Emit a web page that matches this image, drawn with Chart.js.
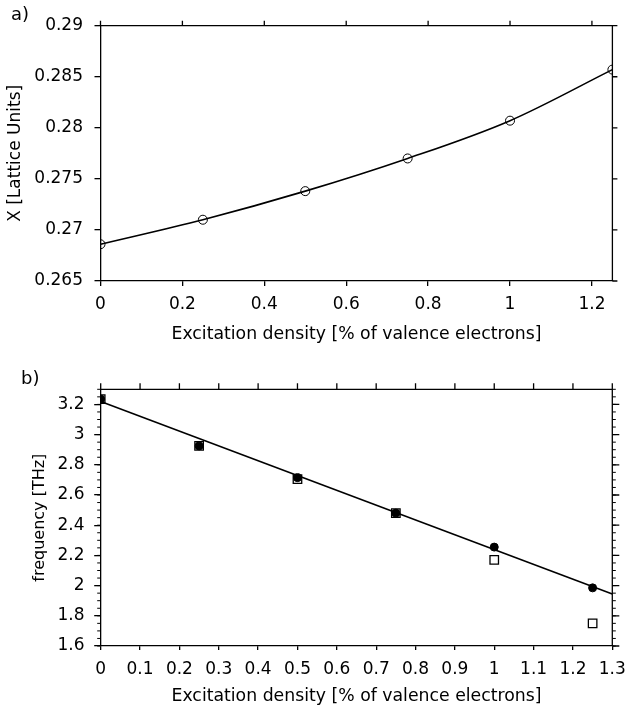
<!DOCTYPE html>
<html>
<head>
<title>Excitation density</title>
<script src="https://cdn.jsdelivr.net/npm/chart.js"></script>
<style>
  body { margin: 0; background: #fff; font-family: 'DejaVu Sans', sans-serif; }
  #wrap { position: relative; width: 626px; height: 713px; }
  canvas { position: absolute; left: 0; }
  #chartA { top: 0; }
  #chartB { top: 350px; }
  .tag { position: absolute; font-size: 18px; color: #000; line-height: 21px; }
</style>
</head>
<body>
<div id="wrap">
  <canvas id="chartA" width="626" height="350"></canvas>
  <canvas id="chartB" width="626" height="363"></canvas>
  <div class="tag" style="left:11px; top:3px;">a)</div>
  <div class="tag" style="left:21px; top:367px;">b)</div>
</div>
<script>
// data
const excitation = [0, 0.25, 0.5, 0.75, 1.0, 1.25];
const latticeX = [0.2686, 0.2710, 0.2738, 0.2770, 0.2807, 0.2857];
const freqFilled = [3.235, 2.925, 2.715, 2.48, 2.255, 1.985];
const freqOpen = [3.235, 2.925, 2.705, 2.48, 2.17, 1.75];
const fitX = [0, 1.3];
const fitY = [3.22, 1.945];

const pts = (xs, ys) => xs.map((x, i) => ({ x: x, y: ys[i] }));
const fmt = v => String(+(+v).toFixed(3));

Chart.defaults.font.family = "'DejaVu Sans', sans-serif";
Chart.defaults.font.size = 17;
Chart.defaults.color = '#000';

// top / right frame lines, their ticks, and minor ticks
const frameTicks = {
  id: 'frameTicks',
  afterDraw(chart, args, opts) {
    const { ctx, chartArea: a, scales: { x, y } } = chart;
    ctx.save();
    ctx.strokeStyle = '#000';
    ctx.lineWidth = 1.3;
    ctx.beginPath();
    ctx.moveTo(a.left, a.top);
    ctx.lineTo(a.right, a.top);
    ctx.lineTo(a.right, a.bottom);
    x.ticks.forEach(t => {
      const p = x.getPixelForValue(t.value);
      ctx.moveTo(p, a.top);
      ctx.lineTo(p, a.top - opts.topLen);
    });
    y.ticks.forEach(t => {
      const p = y.getPixelForValue(t.value);
      ctx.moveTo(a.right, p);
      ctx.lineTo(a.right + opts.rightLen, p);
    });
    ctx.stroke();
    if (opts.minorStep) {
      ctx.lineWidth = 1;
      ctx.beginPath();
      const n = Math.round((y.max - y.min) / opts.minorStep);
      for (let i = 0; i <= n; i++) {
        const p = y.getPixelForValue(y.min + i * opts.minorStep);
        ctx.moveTo(a.left, p);
        ctx.lineTo(a.left - opts.minorLen, p);
        ctx.moveTo(a.right, p);
        ctx.lineTo(a.right + opts.minorLen, p);
      }
      ctx.stroke();
    }
    ctx.restore();
  }
};

const axisGrid = len => ({ drawOnChartArea: false, tickLength: len, color: '#000', lineWidth: 1.3 });
const axisBorder = { color: '#000', width: 1.3 };
// fixed axis boxes, no automatic label overflow padding
const fixH = h => s => { s.height = h; s.paddingLeft = 0; s.paddingRight = 0; };
const fixW = w => s => { s.width = w; s.paddingTop = 0; s.paddingBottom = 0; };

new Chart(document.getElementById('chartA'), {
  type: 'scatter',
  data: {
    datasets: [{
      data: pts(excitation, latticeX),
      showLine: true,
      cubicInterpolationMode: 'monotone',
      borderColor: '#000',
      borderWidth: 1.6,
      pointStyle: 'circle',
      pointRadius: 4.5,
      pointBorderWidth: 1,
      pointBorderColor: '#000',
      pointBackgroundColor: 'rgba(0,0,0,0)'
    }]
  },
  options: {
    responsive: false,
    animation: false,
    devicePixelRatio: 1,
    layout: { padding: { top: 25.7, right: 13.6, left: 0, bottom: 0 } },
    plugins: {
      legend: { display: false },
      tooltip: { enabled: false },
      frameTicks: { topLen: 5, rightLen: 5 }
    },
    scales: {
      x: {
        type: 'linear', min: 0, max: 1.25,
        afterFit: fixH(69),
        ticks: { stepSize: 0.2, includeBounds: false, padding: 8, maxRotation: 0, callback: fmt },
        grid: axisGrid(5),
        border: axisBorder,
        title: { display: true, text: 'Excitation density [% of valence electrons]', font: { size: 17.3 }, padding: { top: 0, bottom: 5 } }
      },
      y: {
        type: 'linear', min: 0.265, max: 0.29,
        afterFit: fixW(100.5),
        ticks: { stepSize: 0.005, includeBounds: false, padding: 11.5, callback: fmt },
        grid: axisGrid(6),
        border: axisBorder,
        title: { display: true, text: 'X [Lattice Units]', padding: { top: 5, bottom: 0 } }
      }
    }
  },
  plugins: [frameTicks]
});

new Chart(document.getElementById('chartB'), {
  type: 'scatter',
  data: {
    datasets: [{
      data: pts(excitation, freqFilled),
      pointStyle: 'circle',
      pointRadius: 4,
      pointBorderWidth: 1,
      pointBorderColor: '#000',
      pointBackgroundColor: '#000'
    }, {
      data: pts(excitation, freqOpen),
      pointStyle: 'rect',
      pointRadius: 6,
      pointBorderWidth: 1.3,
      pointBorderColor: '#000',
      pointBackgroundColor: 'rgba(0,0,0,0)'
    }, {
      data: pts(fitX, fitY),
      showLine: true,
      borderColor: '#000',
      borderWidth: 1.6,
      pointRadius: 0
    }]
  },
  options: {
    responsive: false,
    animation: false,
    devicePixelRatio: 1,
    layout: { padding: { top: 39.3, right: 13.7, left: 0, bottom: 0 } },
    plugins: {
      legend: { display: false },
      tooltip: { enabled: false },
      frameTicks: { topLen: 6, rightLen: 7, minorStep: 0.05, minorLen: 3.5 }
    },
    scales: {
      x: {
        type: 'linear', min: 0, max: 1.3,
        afterFit: fixH(67),
        ticks: { stepSize: 0.1, padding: 9.5, maxRotation: 0, autoSkip: false, callback: fmt },
        grid: axisGrid(4),
        border: axisBorder,
        title: { display: true, text: 'Excitation density [% of valence electrons]', font: { size: 17.3 }, padding: { top: 0, bottom: 6 } }
      },
      y: {
        type: 'linear', min: 1.6, max: 3.3,
        afterFit: fixW(100.7),
        ticks: { stepSize: 0.2, includeBounds: false, padding: 9.7, callback: fmt },
        grid: axisGrid(6.5),
        border: axisBorder,
        title: { display: true, text: 'frequency [THz]', font: { size: 16 }, padding: { top: 30, bottom: 0 } }
      }
    }
  },
  plugins: [frameTicks]
});
</script>
</body>
</html>
